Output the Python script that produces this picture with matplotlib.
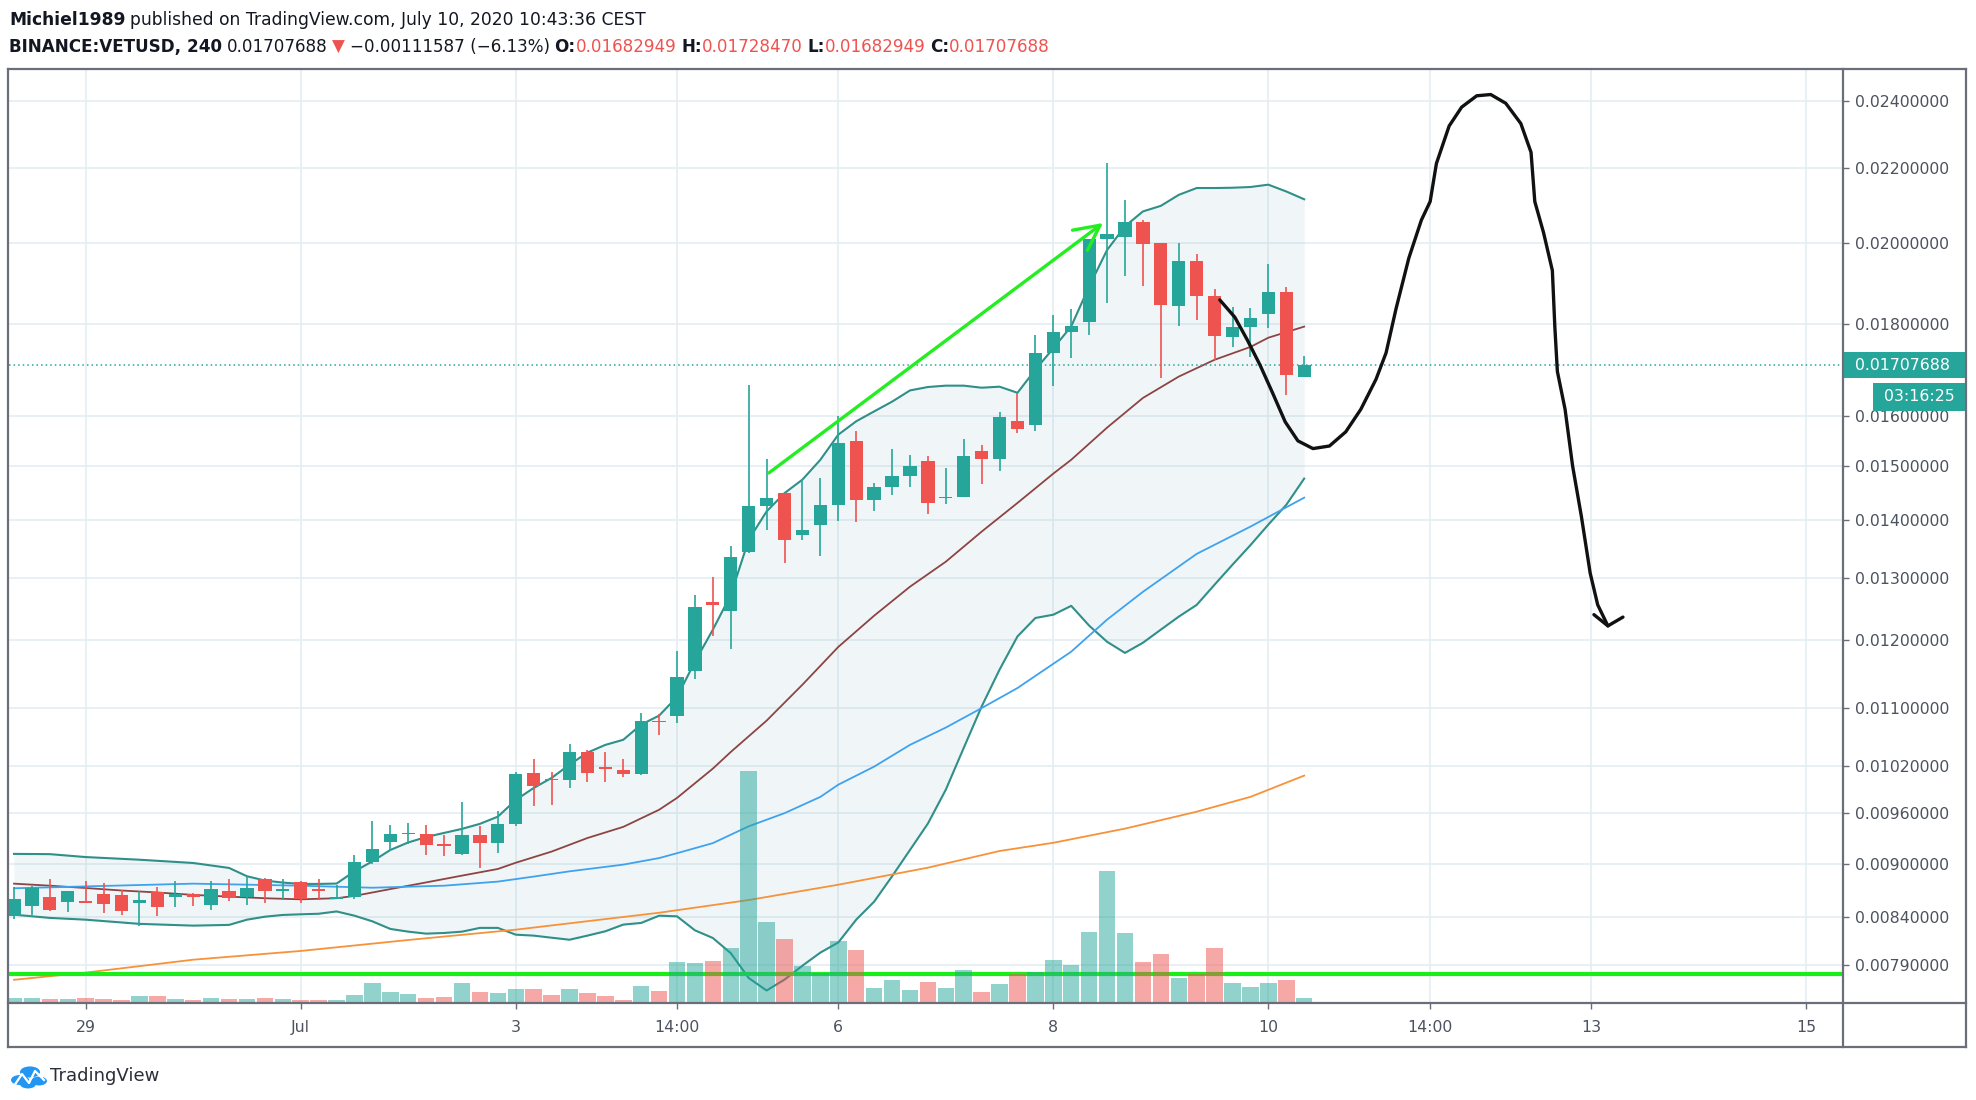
import numpy as np
import matplotlib
matplotlib.use("Agg")
import matplotlib.pyplot as plt
from matplotlib import font_manager
from matplotlib.patches import Rectangle, Circle
from matplotlib.lines import Line2D
from matplotlib.ticker import NullLocator, NullFormatter

# ---------------- data (4h candles, index 0 = 29 Jun 00:00) ----------------
idx = list(range(-4, 69))
opens = [0.008410, 0.008527, 0.008626, 0.008563, 0.008581, 0.008653, 0.008645, 0.008559,
         0.008676, 0.008626, 0.008653, 0.008531, 0.008694, 0.008619, 0.008824, 0.008694,
         0.008790, 0.008710, 0.008603, 0.008626, 0.009014, 0.009256, 0.009345, 0.009354,
         0.009228, 0.009110, 0.009333, 0.009240, 0.009472, 0.010113, 0.010039, 0.010017,
         0.010393, 0.010191, 0.010156, 0.010100, 0.010816, 0.010886, 0.011524, 0.012603,
         0.012449, 0.013440, 0.014256, 0.014491, 0.013737, 0.013916, 0.014268, 0.015486,
         0.014363, 0.014605, 0.014821, 0.015094, 0.014401, 0.014426, 0.015304, 0.015139,
         0.015893, 0.015826, 0.017359, 0.017834, 0.018059, 0.020097, 0.020131, 0.020544,
         0.019983, 0.018443, 0.019519, 0.018674, 0.017712, 0.017944, 0.018250, 0.018755,
         0.01682949]
highs = [0.008728, 0.008740, 0.008824, 0.008694, 0.008797, 0.008779, 0.008702, 0.008694,
         0.008733, 0.008797, 0.008671, 0.008805, 0.008824, 0.008854, 0.008836, 0.008824,
         0.008805, 0.008824, 0.008756, 0.009102, 0.009503, 0.009454, 0.009484, 0.009463,
         0.009341, 0.009743, 0.009447, 0.009625, 0.010121, 0.010294, 0.010130, 0.010494,
         0.010415, 0.010393, 0.010294, 0.010923, 0.010913, 0.011829, 0.012709, 0.013016,
         0.013532, 0.016659, 0.015140, 0.014491, 0.014758, 0.014777, 0.015994, 0.015690,
         0.014681, 0.015331, 0.015222, 0.015190, 0.014968, 0.015535, 0.015419, 0.016075,
         0.016486, 0.017765, 0.018228, 0.018360, 0.020097, 0.022153, 0.021123, 0.020597,
         0.019999, 0.019999, 0.019709, 0.018830, 0.018420, 0.018374, 0.019446, 0.018884,
         0.0172847]
lows = [0.008382, 0.008428, 0.008471, 0.008452, 0.008553, 0.008446, 0.008428, 0.008303,
        0.008410, 0.008516, 0.008524, 0.008481, 0.008581, 0.008531, 0.008559, 0.008588,
        0.008553, 0.008588, 0.008596, 0.008603, 0.008999, 0.009144, 0.009232, 0.009098,
        0.009090, 0.009102, 0.008953, 0.009128, 0.009451, 0.009694, 0.009703, 0.009919,
        0.009995, 0.010000, 0.010061, 0.010091, 0.010613, 0.010785, 0.011412, 0.012053,
        0.011855, 0.013418, 0.013814, 0.013246, 0.013635, 0.013368, 0.013975, 0.013957,
        0.014154, 0.014459, 0.014605, 0.014113, 0.014291, 0.014414, 0.014668, 0.014913,
        0.015646, 0.015687, 0.016638, 0.017251, 0.017765, 0.018499, 0.019167, 0.018920,
        0.016804, 0.017957, 0.018096, 0.017186, 0.017480, 0.017273, 0.017921, 0.016442,
        0.01682949]
closes = [0.008599, 0.008722, 0.008481, 0.008683, 0.008559, 0.008545, 0.008463, 0.008588,
          0.008516, 0.008653, 0.008626, 0.008710, 0.008607, 0.008722, 0.008694, 0.008710,
          0.008596, 0.008694, 0.008626, 0.009014, 0.009165, 0.009345, 0.009362, 0.009220,
          0.009211, 0.009338, 0.009240, 0.009472, 0.010100, 0.009939, 0.010017, 0.010393,
          0.010113, 0.010165, 0.010100, 0.010807, 0.010793, 0.011436, 0.012515, 0.012544,
          0.013357, 0.014256, 0.014395, 0.013635, 0.013826, 0.014274, 0.015465, 0.014363,
          0.014605, 0.014821, 0.014998, 0.014315, 0.014426, 0.015203, 0.015145, 0.015982,
          0.015730, 0.017359, 0.017818, 0.017957, 0.020089, 0.020221, 0.020544, 0.019966,
          0.018459, 0.019519, 0.018674, 0.017726, 0.017944, 0.018152, 0.018755, 0.016861,
          0.01707688]
volume = [4.7, 4.7, 3.7, 3.7, 4.7, 3.7, 3.0, 7.0, 7.0, 4.3, 3.0, 5.3, 3.7, 4.3, 5.3, 3.7,
          3.0, 3.0, 3.0, 8.3, 20.0, 11.3, 9.0, 5.3, 6.3, 20.0, 11.3, 9.7, 14.5, 13.7, 7.7, 14.3,
          10.0, 6.7, 2.7, 16.7, 12.3, 41.0, 40.0, 41.7, 55.0, 232.0, 81.0, 64.3, 36.7, 30.0,
          61.7, 52.7, 15.0, 22.7, 13.3, 21.0, 15.0, 32.7, 11.0, 19.3, 29.5, 31.0, 43.3, 37.7,
          70.7, 132.3, 69.7, 41.0, 48.7, 25.0, 28.7, 55.0, 20.0, 15.7, 20.0, 23.3, 5.0]

# Bollinger bands
bb_x = [-4, -2, 0, 3, 6, 8, 9, 10, 11, 12, 13] + list(range(14, 69))
bb_upper = [0.009113, 0.009110, 0.009076, 0.009045, 0.009007, 0.008950, 0.008855, 0.008806,
            0.008783, 0.008768, 0.008768, 0.008772, 0.008911, 0.009026, 0.009159, 0.009248,
            0.009313, 0.009362, 0.009411, 0.009472, 0.009560, 0.009767, 0.009919, 0.010048,
            0.010221, 0.010380, 0.010484, 0.010553, 0.010761, 0.010886, 0.011151, 0.011667,
            0.012158, 0.012714, 0.013648, 0.014154, 0.014491, 0.014745, 0.015126, 0.015622,
            0.015893, 0.016096, 0.016299, 0.016536, 0.016609, 0.016638, 0.016638, 0.016594,
            0.016616, 0.016486, 0.016984, 0.017457, 0.017957, 0.018903, 0.019808, 0.020421,
            0.020815, 0.020965, 0.021263, 0.021451, 0.021451, 0.021459, 0.021479, 0.021544,
            0.021356, 0.021143]
bb_lower = [0.008428, 0.008393, 0.008374, 0.008329, 0.008310, 0.008318, 0.008374, 0.008406,
            0.008425, 0.008432, 0.008438, 0.008463, 0.008417, 0.008356, 0.008275, 0.008246,
            0.008225, 0.008232, 0.008246, 0.008286, 0.008286, 0.008214, 0.008204, 0.008182,
            0.008161, 0.008204, 0.008250, 0.008321, 0.008339, 0.008417, 0.008410, 0.008260,
            0.008179, 0.008021, 0.007769, 0.007645, 0.007753, 0.007893, 0.008027, 0.008132,
            0.008374, 0.008570, 0.008854, 0.009159, 0.009475, 0.009897, 0.010443, 0.011014,
            0.011549, 0.012053, 0.012342, 0.012394, 0.012536, 0.012221, 0.011970, 0.011800,
            0.011955, 0.012158, 0.012363, 0.012551, 0.012882, 0.013217, 0.013553, 0.013916,
            0.014274, 0.014764]
basis_x = [-4, -2, 0, 2, 4, 6, 8, 10, 12, 14, 15, 17, 19, 21, 23, 24, 26, 28, 30, 32, 33,
           35, 36, 38, 40, 42, 44, 46, 48, 50, 52, 54, 55, 57, 59, 61, 63, 65, 66, 68]
basis = [0.008771, 0.008748, 0.008722, 0.008694, 0.008672, 0.008645, 0.008626, 0.008608,
         0.008596, 0.008608, 0.008634, 0.008710, 0.008785, 0.008862, 0.008938, 0.009010,
         0.009140, 0.009301, 0.009435, 0.009645, 0.009793, 0.010169, 0.010389, 0.010816,
         0.011328, 0.011891, 0.012378, 0.012848, 0.013268, 0.013791, 0.014309, 0.014859,
         0.015126, 0.015764, 0.016377, 0.016833, 0.017201, 0.017487, 0.017696, 0.017950]
ma_blue_x = [-4, 0, 6, 12, 16, 20, 23, 25, 27, 30, 32, 33, 35, 37, 39, 41, 42, 44, 46, 48,
             50, 52, 55, 57, 59, 62, 65, 68]
ma_blue = [0.008719, 0.008740, 0.008771, 0.008748, 0.008725, 0.008748, 0.008794, 0.008851,
           0.008911, 0.008988, 0.009064, 0.009121, 0.009240, 0.009442, 0.009603, 0.009806,
           0.009961, 0.010195, 0.010484, 0.010720, 0.010992, 0.011279, 0.011819, 0.012316,
           0.012764, 0.013402, 0.013880, 0.014407]
ma_orange_x = [-4, 0, 6, 12, 18, 24, 32, 37, 42, 47, 51, 54, 58, 62, 65, 68]
ma_orange = [0.007751, 0.007823, 0.007954, 0.008044, 0.008158, 0.008267, 0.008449, 0.008588,
             0.008759, 0.008953, 0.009147, 0.009244, 0.009414, 0.009621, 0.009806, 0.010078]

# drawings made by the author
support_level = 0.007813
arrow_x = [38.0, 56.9]
arrow_p = [0.014840, 0.020552]
sketch_x = [63.29, 64.13, 64.83, 65.54, 66.24, 66.94, 67.65, 68.49, 69.41, 70.32, 71.16,
            72.01, 72.57, 73.13, 73.84, 74.54, 75.03, 75.38, 76.09, 76.79, 77.63, 78.41,
            79.25, 80.09, 80.66, 80.87, 81.36, 81.85, 81.99, 82.13, 82.56, 82.98, 83.47,
            83.96, 84.38, 84.95]
sketch_p = [0.018577, 0.018168, 0.017642, 0.017082, 0.016481, 0.015882, 0.015498, 0.015345,
            0.015396, 0.015679, 0.016139, 0.016776, 0.017355, 0.018374, 0.019603, 0.020584,
            0.021081, 0.022139, 0.023232, 0.023803, 0.024152, 0.024191, 0.023920, 0.023306,
            0.022458, 0.021081, 0.020252, 0.019293, 0.017934, 0.016945, 0.016139, 0.015006,
            0.014064, 0.013076, 0.012553, 0.012217]
sketch_head_x = [84.17, 84.95, 85.79]
sketch_head_p = [0.012395, 0.012217, 0.012356]

price_ticks = [0.024, 0.022, 0.020, 0.018, 0.016, 0.015, 0.014, 0.013, 0.012, 0.011,
               0.0102, 0.0096, 0.009, 0.0084, 0.0079]
time_ticks = [0, 12, 24, 33, 42, 54, 66, 75, 84, 96]
time_labels = ["29", "Jul", "3", "14:00", "6", "8", "10", "14:00", "13", "15"]
last_price = 0.01707688

GREEN = "#26a69a"
RED = "#ef5350"
TXT = "#131722"
AXTXT = "#4c525e"
FRAME = "#6b6e79"

# ---------------- figure ----------------
W, H = 1976, 1100
fig = plt.figure(figsize=(W / 100, H / 100), dpi=100)
fig.patch.set_facecolor("white")


def fx(px):
    return px / W


def fy(py):
    return 1 - py / H


names = {f.name for f in font_manager.fontManager.ttflist}
HFONT = "Liberation Sans Narrow" if "Liberation Sans Narrow" in names else "DejaVu Sans"

L, R, T, B = 9, 1843, 69, 1003
ax = fig.add_axes([fx(L), fy(B), fx(R) - fx(L), fy(T) - fy(B)])
ax.set_yscale("log")
ax.set_xlim(-4.28, 98.07)
ax.set_ylim(0.0075233, 0.024998)
for s in ax.spines.values():
    s.set_visible(False)

ax.set_yticks(price_ticks)
ax.set_yticklabels([f"{p:.8f}" for p in price_ticks])
ax.yaxis.set_minor_locator(NullLocator())
ax.yaxis.set_minor_formatter(NullFormatter())
ax.yaxis.tick_right()
ax.tick_params(axis="y", direction="out", length=4.5, width=1, color=FRAME,
               labelsize=11.3, labelcolor=AXTXT, pad=4)
ax.set_xticks(time_ticks)
ax.set_xticklabels(time_labels)
ax.tick_params(axis="x", direction="out", length=4.5, width=1, color=FRAME,
               labelsize=11.3, labelcolor=AXTXT, pad=8)
ax.grid(True, color="#e4edf2", lw=1.2)
ax.set_axisbelow(True)

# bollinger fill + lines
ax.fill_between(bb_x, bb_lower, bb_upper, color="#5b9cb8", alpha=0.09, lw=0, zorder=1)
ax.plot(bb_x, bb_upper, color="#2f8f89", lw=1.5, zorder=2)
ax.plot(bb_x, bb_lower, color="#2f8f89", lw=1.5, zorder=2)
ax.plot(basis_x, basis, color="#8d4442", lw=1.3, zorder=2)
ax.plot(ma_blue_x, ma_blue, color="#3ea2ee", lw=1.3, zorder=2)
ax.plot(ma_orange_x, ma_orange, color="#f7923a", lw=1.3, zorder=2)

# horizontal support + last price line
ax.axhline(support_level, color="#19ee19", lw=3, zorder=3)
ax.axhline(last_price, color=GREEN, lw=1.1, ls=(0, (1, 2)), zorder=3)

# candles
x = np.array(idx)
o = np.array(opens)
hi = np.array(highs)
lo = np.array(lows)
c = np.array(closes)
up = c >= o
cols = np.where(up, GREEN, RED)
ax.vlines(x, lo, hi, colors=cols, lw=1.2, zorder=5)
b_lo = np.minimum(o, c)
b_hi = np.maximum(np.maximum(o, c), b_lo * 1.0016)
ax.bar(x, b_hi - b_lo, bottom=b_lo, width=0.74, color=cols, lw=0, zorder=6)

# author drawings
ax.annotate("", xy=(arrow_x[1], arrow_p[1]), xytext=(arrow_x[0], arrow_p[0]),
            arrowprops=dict(arrowstyle="->,head_length=0.9,head_width=0.45",
                            color="#22ee22", lw=2.4, mutation_scale=20), zorder=7)
ax.plot(sketch_x, sketch_p, color="#111111", lw=2.4, solid_capstyle="round",
        solid_joinstyle="round", zorder=7)
ax.plot(sketch_head_x, sketch_head_p, color="#111111", lw=2.4, solid_capstyle="round",
        zorder=7)

# volume overlay
axv = fig.add_axes(ax.get_position(), sharex=ax)
axv.patch.set_visible(False)
for s in axv.spines.values():
    s.set_visible(False)
axv.set_ylim(0, max(volume) / 0.248)
axv.set_yticks([])
axv.tick_params(axis="x", bottom=False, labelbottom=False)
vcols = np.where(up, GREEN, RED)
axv.bar(x, volume, width=0.92, color=vcols, alpha=0.5, lw=0)

# ---------------- frame ----------------
frame_lw = 1.6
for (x0, y0, x1, y1) in [(8, T, 1966, T), (8, 1047, 1966, 1047), (8, T, 8, 1047),
                         (1966, T, 1966, 1047), (R, T, R, 1047), (8, B, 1966, B)]:
    fig.add_artist(Line2D([fx(x0), fx(x1)], [fy(y0), fy(y1)], color=FRAME, lw=frame_lw))

# last price tag + countdown
fig.canvas.draw()
py = H - ax.transData.transform((0, last_price))[1]
fig.add_artist(Rectangle((fx(R), fy(py + 13)), fx(1966) - fx(R), 26 / H, color=GREEN, lw=0))
fig.text(fx(1855), fy(py), f"{last_price:.8f}", color="white", fontsize=11.3,
         va="center", ha="left")
fig.add_artist(Rectangle((fx(1873), fy(411)), fx(1966) - fx(1873), 28 / H, color=GREEN, lw=0))
fig.text(fx(1919), fy(397), "03:16:25", color="white", fontsize=11.3, va="center", ha="center")

# ---------------- header ----------------
renderer = fig.canvas.get_renderer()


def draw_pieces(pieces, x0, y, size):
    xx = x0
    made = []
    for txt, weight, color in pieces:
        if txt == " ":
            xx += size * 0.28 * 100 / 72 / W
            continue
        t = fig.text(xx, y, txt, fontsize=size, fontweight=weight, color=color,
                     family=[HFONT, "DejaVu Sans"], va="center", ha="left")
        made.append(t)
        xx = t.get_window_extent(renderer).x1 / W
    return xx, made


def fitted_line(pieces, x0, y, right_px):
    # draw once at a probe size, then redraw so the line ends where it does in the chart
    end, made = draw_pieces(pieces, x0, y, 14)
    for t in made:
        t.remove()
    size = 14 * (right_px / W - x0) / (end - x0)
    draw_pieces(pieces, x0, y, size)
    return size


line1 = [("Michiel1989", "bold", TXT), (" ", None, None),
         ("published on TradingView.com, July 10, 2020 10:43:36 CEST", "normal", TXT)]
line2 = [("BINANCE:VETUSD, 240", "bold", TXT), (" ", None, None),
         ("0.01707688", "normal", TXT), (" ", None, None), ("\u25bc", "normal", RED),
         (" ", None, None), ("\u22120.00111587 (\u22126.13%)", "normal", TXT),
         (" ", None, None), ("O:", "bold", TXT), ("0.01682949", "normal", RED),
         (" ", None, None), ("H:", "bold", TXT), ("0.01728470", "normal", RED),
         (" ", None, None), ("L:", "bold", TXT), ("0.01682949", "normal", RED),
         (" ", None, None), ("C:", "bold", TXT), ("0.01707688", "normal", RED)]

hsize = fitted_line(line1, fx(9), fy(20), 645)
fitted_line(line2, fx(9), fy(47), 1056)

# ---------------- logo ----------------
for (cx_, cy_, r_) in [(20, 1080, 9), (30, 1072, 10), (39, 1081, 8), (28, 1084, 8)]:
    fig.add_artist(Circle((fx(cx_), fy(cy_)), r_ / W, color="#2196f3", lw=0,
                          transform=fig.transFigure))
fig.add_artist(Line2D([fx(14), fx(22), fx(29), fx(35), fx(44)],
                      [fy(1086), fy(1074), fy(1083), fy(1071), fy(1080)],
                      color="white", lw=1.6))
fig.text(fx(50), fy(1076), "TradingView", fontsize=hsize * 1.05, color="#2a2e39",
         family=[HFONT, "DejaVu Sans"], va="center", ha="left")

fig.savefig("out.png", dpi=100)
